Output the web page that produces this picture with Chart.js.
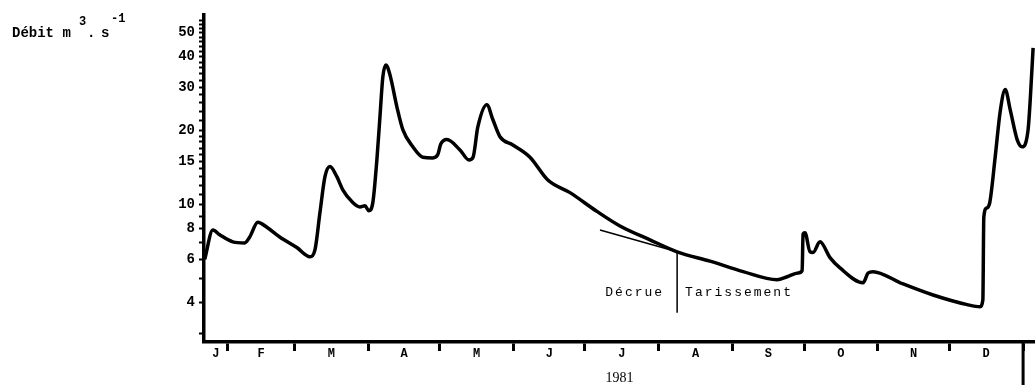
<!DOCTYPE html>
<html lang="fr">
<head>
<meta charset="utf-8">
<title>Débit 1981</title>
<script src="https://cdn.jsdelivr.net/npm/chart.js@4.4.1/dist/chart.umd.min.js"></script>
<style>
    html, body { margin: 0; padding: 0; background: #fff; }
    #wrap { position: relative; width: 1035px; height: 388px; }
</style>
</head>
<body>
<div id="wrap"><canvas id="debitChart"></canvas></div>
<script>
const days = [
    21.3, 24.7, 27.6, 33.1, 38.1, 40.2, 43.6, 47.4, 52.8, 60.0,
    65.5, 67.6, 69.7, 71.8, 73.9, 76.8, 79.3, 83.1, 86.5, 88.6,
    90.2, 91.9, 93.6, 94.9, 96.1, 97.4, 99.1, 102.0, 104.5, 108.7,
    112.9, 117.1, 119.2, 120.4, 123.0, 128.5, 132.3, 134.0, 136.0, 139.8,
    142.3, 145.3, 150.7, 157.9, 165.4, 174.7, 186.0, 195.7, 208.3, 219.7,
    233.5, 247.4, 261.7, 265.9, 270.5, 272.2, 272.6, 273.4, 275.5, 276.8,
    279.7, 283.9, 288.1, 297.8, 299.9, 302.0, 313.4, 327.2, 341.5, 346.9,
    348.1, 348.5, 349.7, 351.0, 353.3, 355.4, 357.5, 359.6, 362.5, 364.6,
    367.1, 368.0, 369.2
];
const flows = [
    6.0, 7.9, 7.55, 7.07, 7.0, 7.4, 8.5, 8.1, 7.4, 6.7,
    6.15, 6.56, 9.3, 13.0, 14.3, 13.0, 11.5, 10.3, 9.8, 9.9,
    9.46, 10.2, 15.2, 22.8, 33, 37, 33.7, 25, 20.2, 17.2,
    15.6, 15.5, 16.0, 17.6, 18.4, 16.7, 15.2, 15.6, 20.7, 25.5,
    22.2, 18.9, 17.5, 15.6, 12.6, 11.2, 9.4, 8.2, 7.2, 6.44,
    5.9, 5.35, 4.96, 5.1, 5.28, 5.4, 7.6, 7.7, 6.44, 6.4,
    7.07, 6.1, 5.54, 4.82, 5.28, 5.35, 4.82, 4.3, 3.93, 3.85,
    4.1, 8.9, 9.7, 10.2, 15.7, 24, 29.4, 24.3, 18.4, 17.2,
    20.2, 26.7, 43.4
];

// Recession tangent (décrue) and the décrue / tarissement split
const decrueDays = [187.3, 219.7];
const decrueFlows = [7.9, 6.44];
const splitDays = [219.7, 219.7];
const splitFlows = [6.44, 3.64];

const monthLabels = ['J', 'F', 'M', 'A', 'M', 'J', 'J', 'A', 'S', 'O', 'N', 'D'];
const monthStarts = [31, 59, 90, 120, 151, 181, 212, 243, 273, 304, 334, 365];
const monthMids = [26, 45, 74.5, 105, 135.5, 166, 196.5, 227.5, 258, 288.5, 319, 349.5];

const yLabelValues = [4, 6, 8, 10, 15, 20, 30, 40, 50];
const yTickValues = [3, 4, 5, 6, 7, 8, 9, 10, 11, 12, 13, 14, 15, 16, 17, 18, 19, 20,
    22, 24, 26, 28, 30, 32, 34, 36, 38, 40, 42, 44, 46, 48, 50, 52, 54, 56];

const pts = (xs, ys) => xs.map((x, i) => ({ x, y: ys[i] }));

// Extra texts: axis unit, décrue / tarissement words, long end tick
const annotations = {
    id: 'annotations',
    afterDraw(chart) {
        const { ctx, scales: { x, y } } = chart;
        ctx.save();
        ctx.fillStyle = '#000';
        ctx.strokeStyle = '#000';

        // "Débit m3.s-1"
        ctx.textBaseline = 'alphabetic';
        ctx.textAlign = 'left';
        ctx.font = 'bold 14px "Liberation Mono"';
        ctx.fillText('Débit m', 12, 37);
        ctx.fillText('.', 87, 37);
        ctx.fillText('s', 101, 37);
        ctx.font = 'bold 12px "Liberation Mono"';
        ctx.fillText('3', 79, 25);
        ctx.fillText('-1', 111, 22);

        // Décrue | Tarissement
        const sx = x.getPixelForValue(splitDays[0]);
        const ty = y.getPixelForValue(4.39);
        ctx.font = '13px "Liberation Mono"';
        ctx.letterSpacing = '2px';
        ctx.textBaseline = 'middle';
        ctx.textAlign = 'right';
        ctx.fillText('Décrue', sx - 13, ty);
        ctx.textAlign = 'left';
        ctx.fillText('Tarissement', sx + 8, ty);

        // longer tick closing December
        const ex = x.getPixelForValue(365);
        ctx.lineWidth = 3;
        ctx.beginPath();
        ctx.moveTo(ex, y.bottom);
        ctx.lineTo(ex, 385);
        ctx.stroke();
        ctx.restore();
    }
};

document.addEventListener('DOMContentLoaded', () => {
    const ctx = document.getElementById('debitChart').getContext('2d');

    new Chart(ctx, {
        type: 'line',
        data: {
            datasets: [
                {
                    label: 'Débit',
                    data: pts(days, flows),
                    borderColor: '#000',
                    borderWidth: 3.5,
                    pointRadius: 0,
                    cubicInterpolationMode: 'monotone',
                    fill: false
                },
                {
                    label: 'Décrue',
                    data: pts(decrueDays, decrueFlows),
                    borderColor: '#000',
                    borderWidth: 1.5,
                    pointRadius: 0,
                    fill: false
                },
                {
                    label: 'Limite',
                    data: pts(splitDays, splitFlows),
                    borderColor: '#000',
                    borderWidth: 1.5,
                    pointRadius: 0,
                    fill: false
                }
            ]
        },
        options: {
            responsive: true,
            maintainAspectRatio: false,
            animation: false,
            layout: { padding: { top: 15, right: 0, bottom: 0, left: 0 } },
            plugins: {
                legend: { display: false },
                tooltip: { enabled: false }
            },
            scales: {
                x: {
                    type: 'linear',
                    min: 21,
                    max: 370,
                    afterBuildTicks: (scale) => {
                        scale.ticks = [...monthStarts, ...monthMids]
                            .sort((a, b) => a - b)
                            .map(v => ({ value: v }));
                    },
                    afterFit: (scale) => { scale.height = 46; },
                    grid: {
                        drawOnChartArea: false,
                        tickLength: 9,
                        tickWidth: 3,
                        tickColor: (c) => (c.tick && monthStarts.includes(c.tick.value)) ? '#000' : 'rgba(0,0,0,0)'
                    },
                    border: { color: '#000', width: 3.5 },
                    ticks: {
                        autoSkip: false,
                        maxRotation: 0,
                        padding: -4,
                        color: '#000',
                        font: { family: '"Liberation Mono"', size: 12, weight: 'bold' },
                        callback: (value) => {
                            const i = monthMids.indexOf(value);
                            return i >= 0 ? monthLabels[i] : '';
                        }
                    },
                    title: {
                        display: true,
                        text: '1981',
                        color: '#000',
                        font: { family: '"Liberation Serif"', size: 14 },
                        padding: { top: 0, bottom: 1 }
                    }
                },
                y: {
                    type: 'logarithmic',
                    min: 2.77,
                    max: 59,
                    afterBuildTicks: (scale) => {
                        scale.ticks = yTickValues.map(v => ({ value: v }));
                    },
                    afterFit: (scale) => { scale.width = 204; },
                    grid: {
                        drawOnChartArea: false,
                        tickLength: 5,
                        tickWidth: 2,
                        tickColor: '#000'
                    },
                    border: { color: '#000', width: 3.5 },
                    ticks: {
                        autoSkip: false,
                        padding: 4,
                        color: '#000',
                        font: { family: '"Liberation Mono"', size: 14, weight: 'bold' },
                        callback: (value) => yLabelValues.includes(value) ? String(value) : ''
                    }
                }
            }
        },
        plugins: [annotations]
    });
});
</script>
</body>
</html>
